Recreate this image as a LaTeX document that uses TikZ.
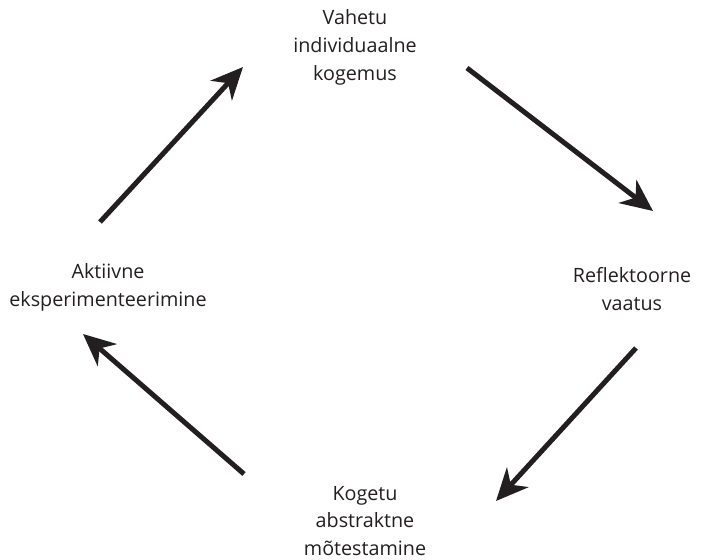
\documentclass[tikz,border=0pt]{standalone}
\usepackage{fontspec}
\setmainfont{Open Sans}
\usetikzlibrary{arrows.meta}
\definecolor{ink}{HTML}{231F20}
\begin{document}
\begin{tikzpicture}[x=1bp,y=-1bp,
  stage/.style={text=ink, align=center, inner sep=0pt,
    font=\fontsize{19.8}{28}\selectfont},
  cyclearrow/.style={draw=ink, line width=5bp,
    -{Stealth[length=32bp,width=29bp,inset=10bp]}}]
  \useasboundingbox (0,0) rectangle (711,560);

  % the four stages of the learning cycle
  \node[stage] (exp)  at (355,47)  {Vahetu\\individuaalne\\kogemus};
  \node[stage] (refl) at (632,289) {Reflektoorne\\vaatus};
  \node[stage] (abs)  at (365,521) {Kogetu\\abstraktne\\mõtestamine};
  \node[stage] (act)  at (108,287) {Aktiivne\\eksperimenteerimine};

  % arrow ends
  \coordinate (a1s) at (100,222); \coordinate (a1e) at (243,67);
  \coordinate (a2s) at (467,68);  \coordinate (a2e) at (653,211);
  \coordinate (a3s) at (636,348); \coordinate (a3e) at (496,501);
  \coordinate (a4s) at (244,474); \coordinate (a4e) at (83,334);

  \draw[cyclearrow] (a1s) -- (a1e);
  \draw[cyclearrow] (a2s) -- (a2e);
  \draw[cyclearrow] (a3s) -- (a3e);
  \draw[cyclearrow] (a4s) -- (a4e);
\end{tikzpicture}
\end{document}
